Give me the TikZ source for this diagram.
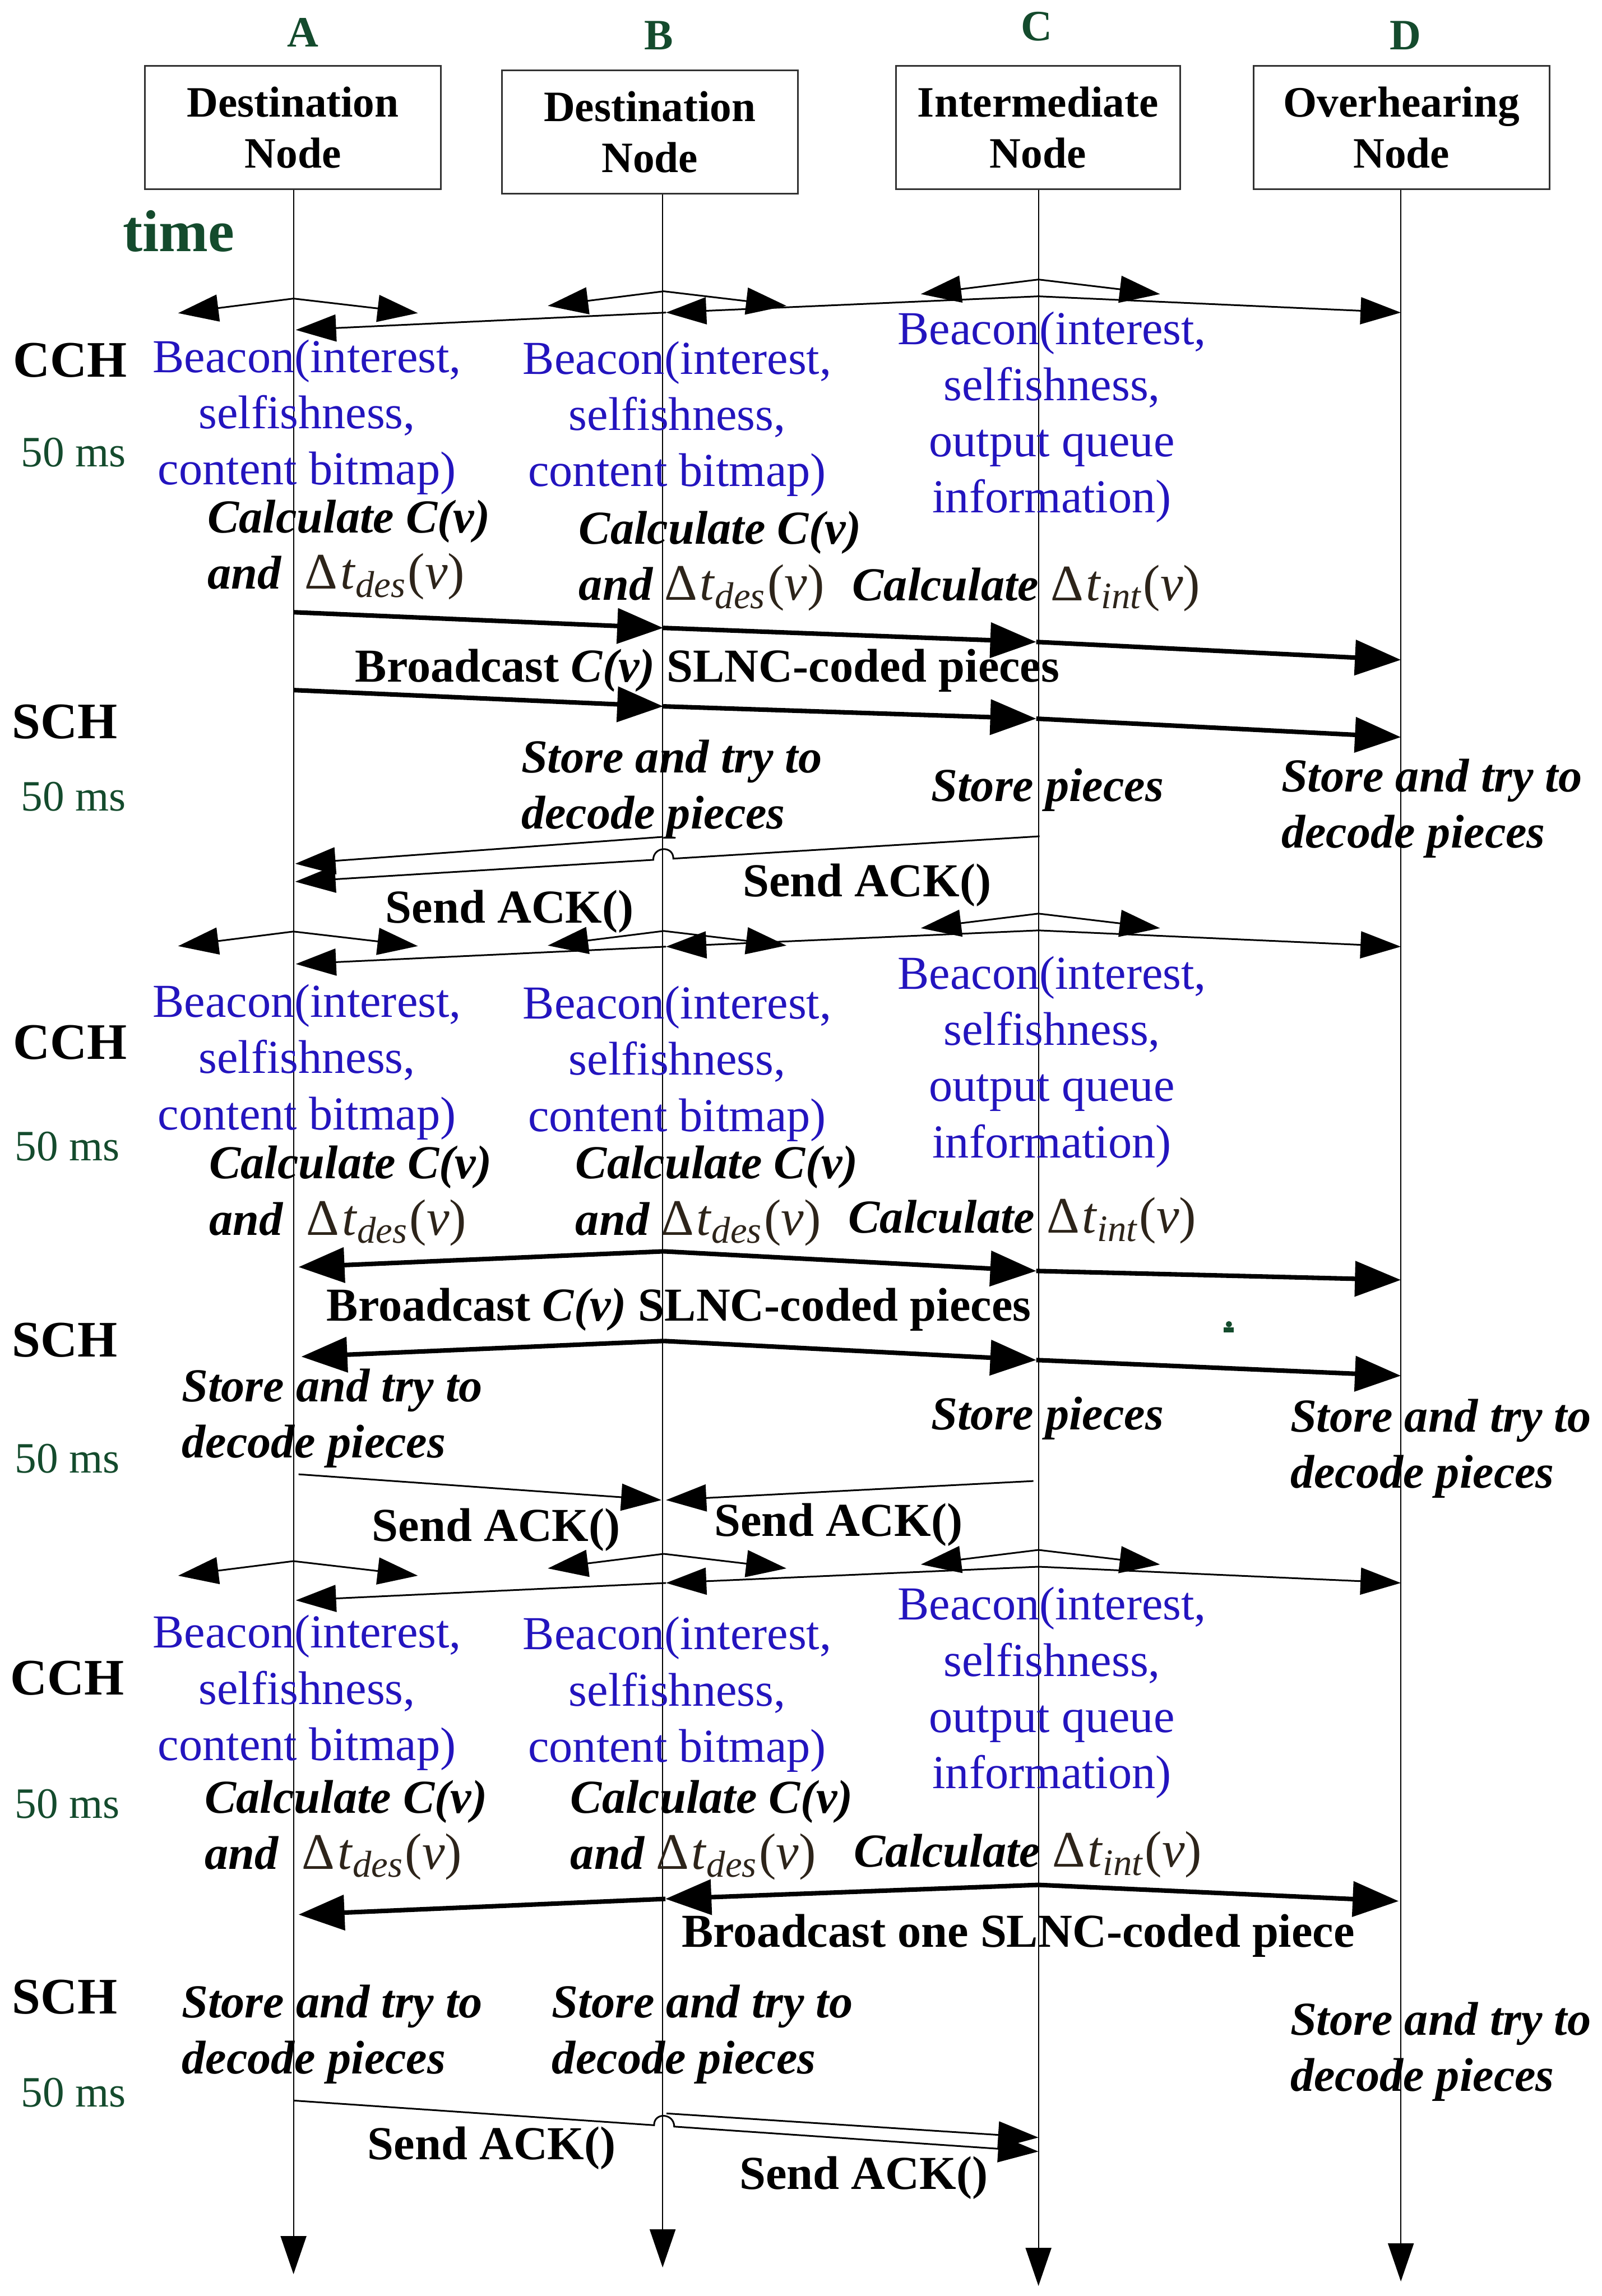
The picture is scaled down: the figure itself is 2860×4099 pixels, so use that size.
\documentclass[tikz,border=0pt]{standalone}
\usepackage{fontspec}
\setmainfont{Liberation Serif}
\usetikzlibrary{arrows.meta,calc,positioning}
\definecolor{beaconblue}{RGB}{35,20,190}
\definecolor{timegreen}{RGB}{20,75,45}
\definecolor{mathbrown}{RGB}{45,36,26}
\definecolor{boxgray}{RGB}{50,50,50}
\newcommand{\deltasub}[1]{{\fontsize{26}{28.5}\selectfont\mdseries\upshape\color{mathbrown}Δ\kern0.05em\textit{t}\raisebox{-0.35ex}{\fontsize{19}{19}\selectfont\itshape #1}\kern0.05em(\textit{v})}}
\newcommand{\dtdes}{\deltasub{des}}
\newcommand{\dtint}{\deltasub{int}}

\begin{document}
\begin{tikzpicture}[x=0.01cm, y=-0.01cm,
    nodebox/.style={draw=boxgray, line width=0.85pt, minimum height=2.2cm, align=center, inner sep=0pt, font=\fontsize{22}{26}\selectfont\bfseries},
    namelabel/.style={text=timegreen, inner sep=0pt, font=\fontsize{22}{26}\selectfont\bfseries},
    chantxt/.style={inner sep=0pt, font=\fontsize{26}{30}\selectfont\bfseries},
    mstxt/.style={text=timegreen, inner sep=0pt, font=\fontsize{22}{26}\selectfont},
    beacontxt/.style={text=beaconblue, align=center, inner sep=0pt, font=\fontsize{24}{28.5}\selectfont},
    calctxt/.style={anchor=west, align=left, inner sep=0pt, font=\fontsize{24}{28.5}\selectfont\bfseries\itshape},
    acktxt/.style={inner sep=0pt, font=\fontsize{24}{28.5}\selectfont\bfseries},
    lifeline/.style={line width=0.6pt, -{Triangle[length=0.68cm, width=0.46cm]}},
    thinmsg/.style={line width=0.85pt, -{Triangle[length=0.72cm, width=0.48cm]}},
    thickmsg/.style={line width=2.3pt, -{Triangle[length=0.82cm, width=0.62cm]}}]
    \useasboundingbox (0,0) rectangle (2860,4099);

    % Node heads
    \node[namelabel] (nameA) at (541,58) {A};
    \node[namelabel] (nameB) at (1176,63) {B};
    \node[namelabel] (nameC) at (1851,47) {C};
    \node[namelabel] (nameD) at (2509,63) {D};
    \node[nodebox, minimum width=5.28cm] (boxA) at (523,228) {Destination\\Node};
    \node[nodebox, minimum width=5.28cm] (boxB) at (1160,236) {Destination\\Node};
    \node[nodebox, minimum width=5.07cm] (boxC) at (1853,228) {Intermediate\\Node};
    \node[nodebox, minimum width=5.28cm] (boxD) at (2502,228) {Overhearing\\Node};
    \node[namelabel, font=\fontsize{30}{34}\selectfont\bfseries] (time) at (319,413) {time};

    % Lifelines
    \coordinate (endA) at (524,4060);
    \coordinate (endB) at (1183,4048);
    \coordinate (endC) at (1854,4081);
    \coordinate (endD) at (2501,4073);
    \foreach \n in {A,B,C,D}
        \draw[lifeline] (box\n.south -| end\n) -- (end\n);

    % Channel labels
    \foreach \nm/\txt/\x/\y in {cch1/CCH/125/643, sch1/SCH/116/1289, cch2/CCH/125/1861,
                                sch2/SCH/116/2392, cch3/CCH/120/2996, sch3/SCH/116/3565}
        \node[chantxt] (\nm) at (\x,\y) {\txt};
    \foreach \s/\x/\y in {1/131/808, 2/131/1422, 3/120/2047, 4/120/2604, 5/120/3220, 6/131/3736}
        \node[mstxt] (ms\s) at (\x,\y) {50 ms};

    % Beacons on the CCH
    \foreach \s/\ya/\yb/\yc/\yl in {1/533/520/499/529, 2/1663/1662/1631/1661, 3/2787/2774/2767/2797} {
        \coordinate (apexA\s) at (524,\ya);
        \coordinate (apexB\s) at (1185,\yb);
        \coordinate (apexC\s) at (1854,\yc);
        \coordinate (leftA\s) at (318,\ya+26);
        \coordinate (rightA\s) at (746,\ya+26);
        \coordinate (leftB\s) at (978,\yb+26);
        \coordinate (rightB\s) at (1404,\yb+26);
        \coordinate (leftC\s) at (1644,\yc+26);
        \coordinate (rightC\s) at (2071,\yc+26);
        \coordinate (lowC\s) at (1854,\yl);
        \coordinate (hitD\s) at (2501,\yl+29);
        \coordinate (hitB\s) at (1189,\yl+29);
        \coordinate (hitA\s) at (528,\yl+60);
        \foreach \n in {A,B,C} {
            \draw[thinmsg] (apex\n\s) -- (left\n\s);
            \draw[thinmsg] (apex\n\s) -- (right\n\s);
        }
        \draw[thinmsg] (lowC\s) -- (hitD\s);
        \draw[thinmsg] (lowC\s) -- (hitB\s);
        \draw[thinmsg] (hitB\s) -- (hitA\s);
    }
    \foreach \s/\y in {1/745, 2/1896, 3/3022} {
        \node[beacontxt] (beaconA\s) at (548,\y) {Beacon(interest,\\selfishness,\\content bitmap)};
        \node[beacontxt] (beaconB\s) at (1209,\y+3) {Beacon(interest,\\selfishness,\\content bitmap)};
        \node[beacontxt] (beaconC\s) at (1878,\y) {Beacon(interest,\\selfishness,\\output queue\\information)};
    }

    % Calculations
    \node[calctxt] (calcA1) at (370,982) {Calculate C(v)\\and\ \ \dtdes};
    \node[calctxt] (calcB1) at (1033,1002) {Calculate C(v)\\and\ \dtdes};
    \node[calctxt] (calcC1) at (1521,1050) {Calculate \dtint};
    \node[calctxt] (calcA2) at (373,2135) {Calculate C(v)\\and\ \ \dtdes};
    \node[calctxt] (calcB2) at (1027,2135) {Calculate C(v)\\and\ \dtdes};
    \node[calctxt] (calcC2) at (1514,2179) {Calculate \dtint};
    \node[calctxt] (calcA3) at (365,3267) {Calculate C(v)\\and\ \ \dtdes};
    \node[calctxt] (calcB3) at (1018,3267) {Calculate C(v)\\and\ \dtdes};
    \node[calctxt] (calcC3) at (1524,3311) {Calculate \dtint};

    % SCH round 1: A broadcasts
    \coordinate (sendA1) at (524,1093);
    \coordinate (gotB1) at (1184,1121);
    \coordinate (gotC1) at (1850,1146);
    \coordinate (gotD1) at (2501,1178);
    \coordinate (sendA1b) at (524,1232);
    \coordinate (gotB1b) at (1184,1261);
    \coordinate (gotC1b) at (1850,1283);
    \coordinate (gotD1b) at (2501,1316);
    \draw[thickmsg] (sendA1) -- (gotB1);
    \draw[thickmsg] (gotB1) -- (gotC1);
    \draw[thickmsg] (gotC1) -- (gotD1);
    \draw[thickmsg] (sendA1b) -- (gotB1b);
    \draw[thickmsg] (gotB1b) -- (gotC1b);
    \draw[thickmsg] (gotC1b) -- (gotD1b);
    \node[acktxt] (bcast1) at (1263,1197) {Broadcast \textit{C(v)} SLNC-coded pieces};
    \node[calctxt] (storeB1) at (930,1409) {Store and try to\\decode pieces};
    \node[calctxt] (storeC1) at (1662,1410) {Store pieces};
    \node[calctxt] (storeD1) at (2287,1443) {Store and try to\\decode pieces};
    \coordinate (ackB1) at (1184,1494);
    \coordinate (ackA1) at (527,1542);
    \coordinate (ackC1) at (1856,1493);
    \coordinate (ackA1b) at (527,1574);
    \draw[thinmsg] (ackB1) -- (ackA1);
    \draw[thinmsg] (ackC1) -- ($(ackC1)!0.492!(ackA1b)$)
        .. controls +(0,-24) and +(0,-24) .. ($(ackC1)!0.519!(ackA1b)$) -- (ackA1b);
    \node[acktxt] (ackL1) at (910,1627) {Send ACK()};
    \node[acktxt] (ackR1) at (1548,1580) {Send ACK()};

    % SCH round 2: B broadcasts
    \coordinate (sendB2) at (1185,2234);
    \coordinate (gotA2) at (533,2262);
    \coordinate (gotC2) at (1850,2269);
    \coordinate (gotD2) at (2501,2285);
    \coordinate (sendB2b) at (1185,2394);
    \coordinate (gotA2b) at (538,2422);
    \coordinate (gotC2b) at (1850,2428);
    \coordinate (gotD2b) at (2501,2456);
    \draw[thickmsg] (sendB2) -- (gotA2);
    \draw[thickmsg] (sendB2) -- (gotC2);
    \draw[thickmsg] (gotC2) -- (gotD2);
    \draw[thickmsg] (sendB2b) -- (gotA2b);
    \draw[thickmsg] (sendB2b) -- (gotC2b);
    \draw[thickmsg] (gotC2b) -- (gotD2b);
    \node[acktxt] (bcast2) at (1212,2338) {Broadcast \textit{C(v)} SLNC-coded pieces};
    \fill[timegreen] (2194,2364) circle (0.055cm);
    \fill[timegreen] (2185,2370) rectangle (2203,2379);
    \node[calctxt] (storeA2) at (324,2532) {Store and try to\\decode pieces};
    \node[calctxt] (storeC2) at (1662,2532) {Store pieces};
    \node[calctxt] (storeD2) at (2303,2586) {Store and try to\\decode pieces};
    \coordinate (ackA2) at (533,2632);
    \coordinate (ackB2) at (1181,2678);
    \coordinate (ackC2) at (1845,2644);
    \coordinate (ackB2b) at (1189,2678);
    \draw[thinmsg] (ackA2) -- (ackB2);
    \draw[thinmsg] (ackC2) -- (ackB2b);
    \node[acktxt] (ackL2) at (886,2731) {Send ACK()};
    \node[acktxt] (ackR2) at (1497,2722) {Send ACK()};

    % SCH round 3: C broadcasts one piece
    \coordinate (sendC3) at (1854,3365);
    \coordinate (gotB3) at (1188,3390);
    \coordinate (gotA3) at (533,3418);
    \coordinate (gotD3) at (2497,3394);
    \draw[thickmsg] (sendC3) -- (gotD3);
    \draw[thickmsg] (sendC3) -- (gotB3);
    \draw[thickmsg] (gotB3) -- (gotA3);
    \node[acktxt] (bcast3) at (1818,3456) {Broadcast one SLNC-coded piece};
    \node[calctxt] (storeA3) at (324,3632) {Store and try to\\decode pieces};
    \node[calctxt] (storeB3) at (985,3632) {Store and try to\\decode pieces};
    \node[calctxt] (storeD3) at (2303,3663) {Store and try to\\decode pieces};
    \coordinate (ackA3) at (524,3750);
    \coordinate (ackC3b) at (1854,3841);
    \coordinate (ackB3) at (1190,3773);
    \coordinate (ackC3) at (1854,3816);
    \draw[thinmsg] (ackA3) -- ($(ackA3)!0.484!(ackC3b)$)
        .. controls +(0,-24) and +(0,-24) .. ($(ackA3)!0.511!(ackC3b)$) -- (ackC3b);
    \draw[thinmsg] (ackB3) -- (ackC3);
    \node[acktxt] (ackL3) at (878,3835) {Send ACK()};
    \node[acktxt] (ackR3) at (1542,3888) {Send ACK()};
\end{tikzpicture}
\end{document}
